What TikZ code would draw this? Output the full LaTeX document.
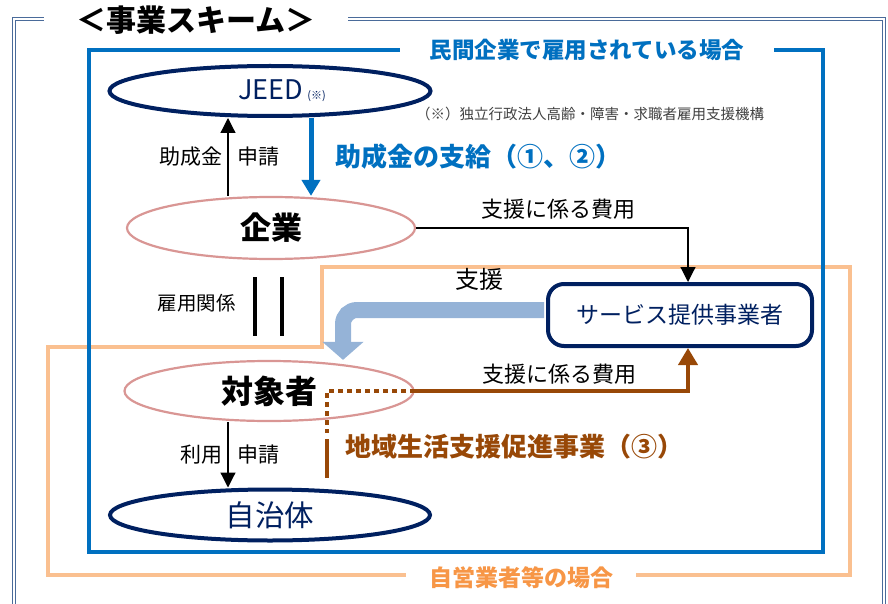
\documentclass[tikz,border=0pt]{standalone}
\usepackage{fontspec}
\setmainfont{Noto Sans CJK JP}
\usepackage{xcolor}
\usetikzlibrary{shapes.geometric, positioning, calc, arrows.meta}
\definecolor{navy}{HTML}{002060}
\definecolor{jblue}{HTML}{0070C0}
\definecolor{pinkline}{HTML}{D99694}
\definecolor{lorange}{HTML}{FAC090}
\definecolor{dorange}{HTML}{F79646}
\definecolor{brownline}{HTML}{984807}
\definecolor{lblue}{HTML}{95B3D7}
\definecolor{frameblue}{HTML}{4A6B9A}
\definecolor{notegray}{HTML}{404040}
\newcommand{\fs}[1]{\fontsize{#1}{#1}\selectfont}

\begin{document}
\begin{tikzpicture}[x=1pt, y=-1pt,
    navyell/.style={ellipse, draw=navy, line width=4pt, fill=white, inner sep=0pt},
    pinkell/.style={ellipse, draw=pinkline, line width=2.2pt, fill=white, inner sep=0pt},
    lbl/.style={inner sep=0pt},
    blackarrow/.style={line width=1.2pt, -{Triangle[width=15pt, length=15pt]}},
    bluearrow/.style={jblue, line width=5pt, -{Triangle[width=18pt, length=16pt]}},
    feearrow/.style={brownline, line width=4pt, -{Triangle[width=19pt, length=17pt]}},
    supply/.style={lblue, line width=16pt, rounded corners=14pt, -{Triangle[width=40pt, length=18pt]}}]
    \useasboundingbox (0,0) rectangle (888,604);

    \draw[frameblue, line width=0.9pt, double=white, double distance=2.2pt] (14,608) -- (14,19) -- (884,19) -- (884,608);
    \node[lbl, fill=white, inner xsep=32pt, font=\bfseries\fs{30}] (title) at (196,20) {＜事業スキーム＞};

    \draw[lorange, line width=3.5pt] (48,575) -- (48,347) -- (322,347) -- (322,267) -- (850,267) -- (850,575) -- cycle;
    \draw[jblue, line width=3.5pt] (89,50) rectangle (823,552);
    \node[lbl, fill=white, inner xsep=30pt, inner ysep=2pt, font=\bfseries\fs{22.5}, text=jblue] (minkan) at (587,50) {民間企業で雇用されている場合};
    \node[lbl, fill=white, inner xsep=23pt, inner ysep=2pt, font=\bfseries\fs{23}, text=dorange] (jiei) at (521,578) {自営業者等の場合};

    \node[navyell, minimum width=321pt, minimum height=50pt] (jeed) at (270,91) {};
    \node[lbl, font=\fs{27}, text=navy] (jeedname) at ([xshift=12pt]jeed.center) {JEED\,{\fs{11}(※)}};
    \node[lbl, font=\fs{14.5}, text=notegray, anchor=west] (note) at (416,114) {（※）独立行政法人高齢・障害・求職者雇用支援機構};

    \node[pinkell, minimum width=288pt, minimum height=62pt, font=\bfseries\fs{31}] (kigyo) at (271,228) {企業};
    \node[pinkell, minimum width=289pt, minimum height=60pt, font=\bfseries\fs{32}] (taisho) at (269,391) {対象者};
    \node[navyell, minimum width=320pt, minimum height=51pt, font=\fs{29.5}, text=navy] (jichi) at (270,515) {自治体};
    \node[draw=navy, line width=4pt, fill=white, rounded corners=16pt, minimum width=264pt, minimum height=62pt, font=\fs{23}, text=navy] (svc) at (680,315) {サービス提供事業者};

    \draw[blackarrow] ([xshift=-43pt]kigyo.north) -- node[lbl, left=5pt, font=\fs{21}] {助成金} node[lbl, right=9pt, font=\fs{21}] {申請} ([xshift=-42pt]jeed.south);
    \draw[bluearrow] ([xshift=41pt]jeed.south) -- node[lbl, right=22pt, font=\bfseries\fs{26}, text=jblue] {助成金の支給（①、②）} ([xshift=40pt]kigyo.north);
    \draw[blackarrow] (kigyo.east) -| node[lbl, pos=0.262, above=8pt, font=\fs{22}] {支援に係る費用} ([xshift=8pt]svc.north);

    \draw[line width=3.5pt] ([xshift=-16pt]kigyo.south) ++(0,17) coordinate (k1) -- ++(0,59) coordinate (k2);
    \draw[line width=3.5pt] ([xshift=11pt]kigyo.south) ++(0,17) -- ++(0,59);
    \coordinate (kmid) at ($(k1)!0.5!(k2)+(0,-3)$);
    \node[lbl, left=19pt of kmid, font=\fs{19.5}] (koyo) {雇用関係};

    \draw[supply] ([xshift=-2pt, yshift=5pt]svc.west) -| node[lbl, pos=0.16, above=12pt, font=\fs{24}, text=black] {支援} ([xshift=74pt]taisho.north);

    \draw[feearrow] (taisho.east) -| node[lbl, pos=0.265, above=5pt, font=\fs{22}, text=black] {支援に係る費用} ([xshift=8pt]svc.south);
    \draw[brownline, line width=4pt, dash pattern=on 5pt off 4pt] (taisho.east) -- ++(-88,0) coordinate (bend) -- ++(0,42);
    \draw[brownline, line width=4pt] ($(bend)+(0,48)$) coordinate (d1) -- ++(0,39) coordinate (d2);
    \node[lbl, anchor=west, font=\bfseries\fs{26}, text=brownline] (chiiki) at ($(d1)+(19,8)$) {地域生活支援促進事業（③）};

    \draw[blackarrow] ([xshift=-41pt]taisho.south) -- node[lbl, left=5pt, font=\fs{21}] {利用} node[lbl, right=9pt, font=\fs{21}] {申請} ([xshift=-42pt]jichi.north);
\end{tikzpicture}
\end{document}
